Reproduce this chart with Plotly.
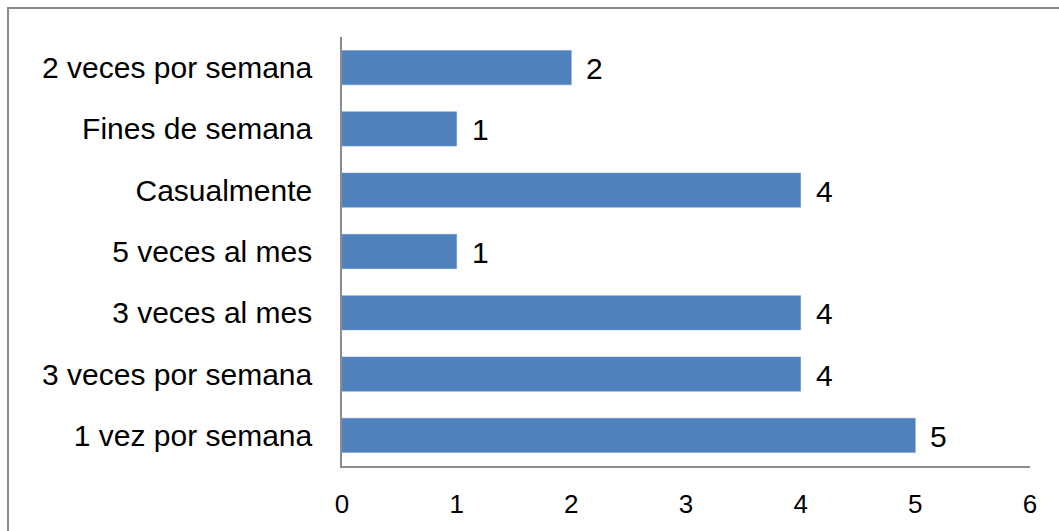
import plotly.graph_objects as go

categories = ["1 vez por semana", "3 veces por semana", "3 veces al mes",
              "5 veces al mes", "Casualmente", "Fines de semana", "2 veces por semana"]
values = [5, 4, 4, 1, 4, 1, 2]
x_ticks = [0, 1, 2, 3, 4, 5, 6]

FONT = "Arial, Liberation Sans, sans-serif"
BAR = "#4F81BD"
AXIS = "#8C8C8C"

fig = go.Figure()
fig.add_trace(go.Bar(
    x=values, y=categories, orientation="h",
    marker=dict(color=BAR, line=dict(color="#6F97C9", width=0.5)),
    width=0.56, hoverinfo="x+y",
))

for v, c in zip(values, categories):
    fig.add_annotation(x=v, y=c, text=str(v), showarrow=False,
                       xanchor="left", yanchor="middle", xshift=13, yshift=-1,
                       font=dict(family=FONT, size=30, color="#000000"))

L, R, T, B = 342, 29, 37, 57
W, H = 1059, 531
pw, ph = W - L - R, H - T - B

def px(xp):
    return (xp - L) / pw

def py(yp):
    return (H - B - yp) / ph

fig.add_shape(type="rect", xref="paper", yref="paper",
              x0=px(8), x1=px(1080), y0=py(560), y1=py(7.5),
              line=dict(color="#8A8A8A", width=2), fillcolor="rgba(0,0,0,0)",
              layer="below")

fig.update_layout(
    width=W, height=H,
    margin=dict(l=L, r=R, t=T, b=B, pad=0),
    plot_bgcolor="white", paper_bgcolor="white",
    showlegend=False,
    font=dict(family=FONT, color="#000000"),
    xaxis=dict(range=[0, 6], tickvals=x_ticks, showgrid=False, zeroline=False,
               showline=True, linecolor=AXIS, linewidth=1.5,
               ticks="", tickfont=dict(family=FONT, size=26, color="#000000"),
               ticklabelstandoff=14, fixedrange=True),
    yaxis=dict(showgrid=False, zeroline=False, showline=True, linecolor=AXIS,
               linewidth=1.5, ticks="", type="category",
               categoryorder="array", categoryarray=categories,
               tickfont=dict(family=FONT, size=30, color="#000000"),
               ticklabelstandoff=22, range=[-0.5, 6.5], fixedrange=True),
)

fig.write_html("out.html")
